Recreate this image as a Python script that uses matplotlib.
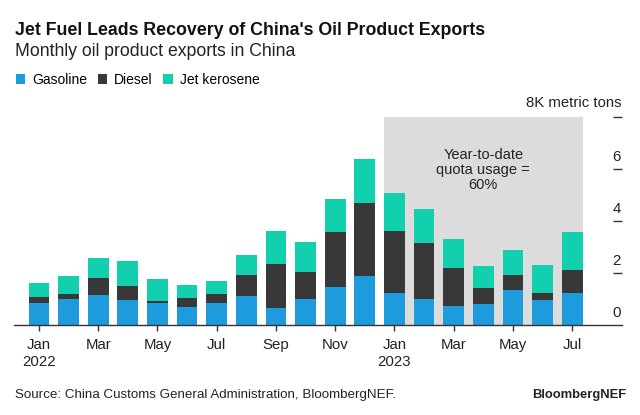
import matplotlib
matplotlib.use("Agg")
import matplotlib.pyplot as plt
from matplotlib.patches import Patch

plt.rcParams['font.family'] = ['Liberation Sans', 'DejaVu Sans']

months = ["Jan\n2022", "Feb", "Mar", "Apr", "May", "Jun", "Jul", "Aug", "Sep", "Oct", "Nov", "Dec",
          "Jan\n2023", "Feb", "Mar", "Apr", "May", "Jun", "Jul"]
gasoline = [0.86, 1.02, 1.17, 0.97, 0.85, 0.72, 0.87, 1.12, 0.65, 1.00, 1.48, 1.91,
            1.24, 1.01, 0.75, 0.82, 1.36, 0.96, 1.23]
diesel = [0.22, 0.18, 0.65, 0.53, 0.10, 0.32, 0.35, 0.81, 1.72, 1.05, 2.10, 2.78,
          2.39, 2.14, 1.44, 0.60, 0.59, 0.27, 0.90]
jet = [0.54, 0.68, 0.77, 0.96, 0.82, 0.52, 0.48, 0.79, 1.25, 1.15, 1.27, 1.72,
       1.45, 1.34, 1.13, 0.85, 0.95, 1.08, 1.46]
yticks = [0, 2, 4, 6]
series_names = ["Gasoline", "Diesel", "Jet kerosene"]
colors = ["#1E9BDC", "#383838", "#12CFAE"]

fig = plt.figure(figsize=(6.4, 4.15), dpi=100)
ax = fig.add_axes([14/640, (415-325.3)/415, 608/640, 208/415])

x = list(range(len(months)))
bottom2 = [g + d for g, d in zip(gasoline, diesel)]
ax.bar(x, gasoline, width=0.7, color=colors[0], zorder=2)
ax.bar(x, diesel, width=0.7, bottom=gasoline, color=colors[1], zorder=2)
ax.bar(x, jet, width=0.7, bottom=bottom2, color=colors[2], zorder=2)

# shaded 2023 region
ax.axvspan(12 - 0.35, 18 + 0.35, ymin=0, ymax=1, color="#DCDCDC", zorder=1, lw=0)
ax.text(15, 5.97, "Year-to-date\nquota usage =\n60%", ha="center", va="center",
        fontsize=10.5, color="#222222", linespacing=1.1, zorder=3)

ax.set_xlim(-0.84, 19.68)
ax.set_ylim(0, 8)

for s in ["top", "left", "right"]:
    ax.spines[s].set_visible(False)
ax.spines["bottom"].set_color("#333333")
ax.spines["bottom"].set_linewidth(1.0)
ax.spines["bottom"].set_zorder(4)

ax.set_xticks(x[::2])
ax.set_xticklabels(months[::2], fontsize=10.8, color="#222222", linespacing=1.25)
ax.tick_params(axis="x", length=4.5, width=1, color="#333333", pad=4.5)

ax.yaxis.tick_right()
ax.set_yticks([2, 4, 6, 8])
ax.tick_params(axis="y", direction="in", length=6.5, width=1, color="#333333",
               labelright=False, labelleft=False, left=False)

for v in yticks:
    ax.annotate(str(v), xy=(1, v), xycoords=("axes fraction", "data"),
                xytext=(-1, 9), textcoords="offset points", ha="right", va="center",
                fontsize=10.8, color="#222222")
ax.annotate("8K metric tons", xy=(1, 8), xycoords=("axes fraction", "data"),
            xytext=(0, 10), textcoords="offset points", ha="right", va="center",
            fontsize=10.7, color="#222222")

fig.text(15/640, 1 - 30.7/415, "Jet Fuel Leads Recovery of China's Oil Product Exports",
         fontsize=12.75, fontweight="bold", va="center", ha="left", color="#111111")
fig.text(15/640, 1 - 51.7/415, "Monthly oil product exports in China",
         fontsize=12.7, va="center", ha="left", color="#222222")

handles = [Patch(facecolor=c, edgecolor="none", label=n) for c, n in zip(colors, series_names)]
fig.legend(handles=handles, loc="center left", bbox_to_anchor=(10/640, 1 - 80/415),
           ncol=3, frameon=False, fontsize=10, handlelength=0.7, handleheight=0.7,
           handletextpad=0.5, columnspacing=0.75, borderaxespad=0)

fig.text(15/640, 1 - 395/415, "Source: China Customs General Administration, BloombergNEF.",
         fontsize=9.6, va="center", ha="left", color="#222222")
fig.text(626/640, 1 - 395/415, "BloombergNEF", fontsize=9.4, fontweight="bold",
         va="center", ha="right", color="#222222")

fig.savefig("out.png", dpi=100)
